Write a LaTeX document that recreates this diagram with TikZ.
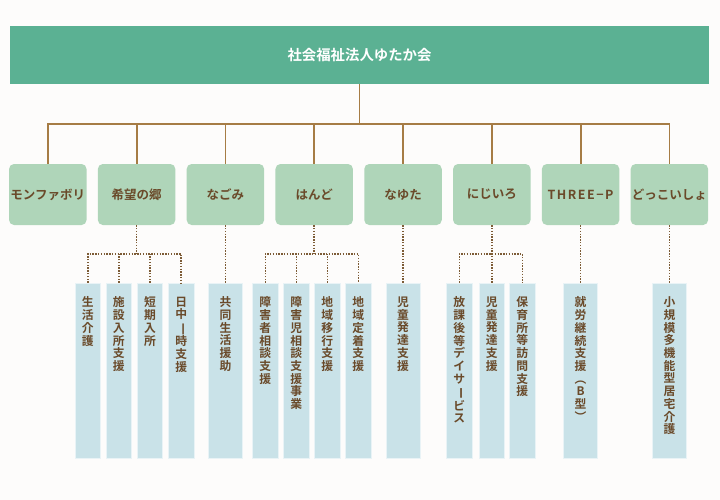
\documentclass[tikz,border=0pt]{standalone}
\usepackage{fontspec}
\setmainfont{Noto Sans CJK JP}[BoldFont={Noto Sans CJK JP Bold}]
\definecolor{bgc}{HTML}{FDFCFB}
\definecolor{topc}{HTML}{5BB193}
\definecolor{midc}{HTML}{AFD5B9}
\definecolor{colc}{HTML}{C9E2E8}
\definecolor{txtc}{HTML}{6A4A2A}
\definecolor{linec}{HTML}{A67C45}
\definecolor{dotc}{HTML}{7D5C36}
\newcommand{\vrot}[1]{\rotatebox[origin=c]{-90}{#1}}
\tikzset{
  topbox/.style={fill=topc, minimum width=699pt, minimum height=58pt, inner sep=0pt,
    text=white, font=\fontsize{14.4}{16}\selectfont\bfseries},
  midbox/.style={fill=midc, rounded corners=5pt, minimum width=77.5pt, minimum height=61pt,
    inner sep=0pt, text=txtc, font=\fontsize{12.5}{14}\selectfont\bfseries},
  colbox/.style={fill=colc, draw=white!60!colc, line width=0.6pt, minimum width=25.5pt,
    minimum height=175pt, inner sep=0pt},
  widecol/.style={colbox, minimum width=34pt},
  coltext/.style={anchor=north, inner sep=0pt, align=center, text=txtc,
    font=\fontsize{11.8}{12.7}\selectfont\bfseries},
  conn/.style={draw=linec, line width=1.8pt},
  dotconn/.style={draw=dotc, line width=1.6pt, dash pattern=on 1.4pt off 1.4pt},
}
\begin{document}
\begin{tikzpicture}[x=1pt,y=-1pt]
\fill[bgc] (0,0) rectangle (720,500);
\useasboundingbox (0,0) rectangle (720,500);
% root
\node[topbox] (root) at (359.5,55) {社会福祉法人ゆたか会};
% middle boxes
\node[midbox] (m1) at (47.8,194.5) {モンファボリ};
\node[midbox] (m2) at (136.6,194.5) {希望の郷};
\node[midbox] (m3) at (225.4,194.5) {なごみ};
\node[midbox] (m4) at (314.2,194.5) {はんど};
\node[midbox] (m5) at (403.0,194.5) {なゆた};
\node[midbox] (m6) at (491.8,194.5) {にじいろ};
\node[midbox] (m7) at (580.6,194.5) {\addfontfeature{LetterSpace=12}THREE−P};
\node[midbox] (m8) at (669.4,194.5) {どっこいしょ};
% solid connectors
\draw[conn] (root.south) -- ++(0,41);
\draw[conn] (m1.north) -- ++(0,-39.5) -| (m8.north);
\foreach \i in {2,...,7} \draw[conn] (m\i.north) -- ++(0,-39.5);
% columns
\node[colbox] (c1) at (87.8,370.5) {};
\node[colbox] (c2) at (118.8,370.5) {};
\node[colbox] (c3) at (150.0,370.5) {};
\node[colbox] (c4) at (181.2,370.5) {};
\node[widecol] (c5) at (225.4,370.5) {};
\node[colbox] (c6) at (265.3,370.5) {};
\node[colbox] (c7) at (296.3,370.5) {};
\node[colbox] (c8) at (327.3,370.5) {};
\node[colbox] (c9) at (358.3,370.5) {};
\node[widecol] (c10) at (403.0,370.5) {};
\node[colbox] (c11) at (459.3,370.5) {};
\node[colbox] (c12) at (491.8,370.5) {};
\node[colbox] (c13) at (522.3,370.5) {};
\node[widecol] (c14) at (580.6,370.5) {};
\node[widecol] (c15) at (669.4,370.5) {};
% column texts
\node[coltext] (t1) at ([yshift=-14pt]c1.north) {生\\活\\介\\護};
\node[coltext] (t2) at ([yshift=-14pt]c2.north) {施\\設\\入\\所\\支\\援};
\node[coltext] (t3) at ([yshift=-14pt]c3.north) {短\\期\\入\\所};
\node[coltext] (t4) at ([yshift=-14pt]c4.north) {日\\中\\\vrot{一}\\時\\支\\援};
\node[coltext] (t5) at ([yshift=-14pt]c5.north) {共\\同\\生\\活\\援\\助};
\node[coltext] (t6) at ([yshift=-14pt]c6.north) {障\\害\\者\\相\\談\\支\\援};
\node[coltext] (t7) at ([yshift=-14pt]c7.north) {障\\害\\児\\相\\談\\支\\援\\事\\業};
\node[coltext] (t8) at ([yshift=-14pt]c8.north) {地\\域\\移\\行\\支\\援};
\node[coltext] (t9) at ([yshift=-14pt]c9.north) {地\\域\\定\\着\\支\\援};
\node[coltext] (t10) at ([yshift=-14pt]c10.north) {児\\童\\発\\達\\支\\援};
\node[coltext] (t11) at ([yshift=-14pt]c11.north) {放\\課\\後\\等\\デ\\イ\\サ\\\vrot{ー}\\ビ\\ス};
\node[coltext] (t12) at ([yshift=-14pt]c12.north) {児\\童\\発\\達\\支\\援};
\node[coltext] (t13) at ([yshift=-14pt]c13.north) {保\\育\\所\\等\\訪\\問\\支\\援};
\node[coltext] (t14) at ([yshift=-14pt]c14.north) {就\\労\\継\\続\\支\\援\\︵\\B\\型\\︶};
\node[coltext] (t15) at ([yshift=-14pt]c15.north) {小\\規\\模\\多\\機\\能\\型\\居\\宅\\介\\護};
% dotted connectors
\draw[dotconn] (m2.south) -- ++(0,29);
\draw[dotconn] (c1.north) -- ++(0,-29) -| (c4.north);
\draw[dotconn] (c2.north) -- ++(0,-29);
\draw[dotconn] (c3.north) -- ++(0,-29);
\draw[dotconn] (m3.south) -- (c5.north);
\draw[dotconn] (m4.south) -- ++(0,29);
\draw[dotconn] (c6.north) -- ++(0,-29) -| (c9.north);
\draw[dotconn] (c7.north) -- ++(0,-29);
\draw[dotconn] (c8.north) -- ++(0,-29);
\draw[dotconn] (m5.south) -- (c10.north);
\draw[dotconn] (m6.south) -- (c12.north);
\draw[dotconn] (c11.north) -- ++(0,-29) -| (c13.north);
\draw[dotconn] (m7.south) -- (c14.north);
\draw[dotconn] (m8.south) -- (c15.north);
\end{tikzpicture}
\end{document}
